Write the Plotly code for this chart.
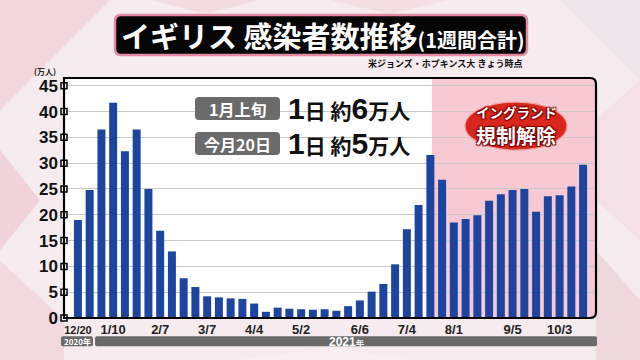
import pandas as pd
import plotly.graph_objects as go

# ---------------- data ----------------
week_start = pd.Timestamp("2020-12-20")
weekly_cases = [19.0, 24.8, 36.5, 41.7, 32.3, 36.5, 25.0, 16.9, 12.9, 7.7,
                6.0, 4.2, 4.0, 3.8, 3.7, 2.8, 1.2, 2.0, 1.8, 1.7,
                1.6, 1.7, 1.4, 2.3, 3.4, 5.1, 6.6, 10.4, 17.2, 21.9,
                31.6, 26.8, 18.5, 19.2, 19.9, 22.7, 24.0, 24.8, 25.0, 20.6,
                23.6, 23.8, 25.5, 29.7]
weeks = list(pd.date_range(week_start, periods=len(weekly_cases), freq="7D"))
tick_dates = ["2020-12-20", "2021-01-10", "2021-02-07", "2021-03-07", "2021-04-04",
              "2021-05-02", "2021-06-06", "2021-07-04", "2021-08-01", "2021-09-05",
              "2021-10-03"]
tick_labels = ["<span style='font-size:11px'>12/20</span>", "1/10", "2/7", "3/7", "4/4",
               "5/2", "6/6", "7/4", "8/1", "9/5", "10/3"]
y_ticks = [0, 5, 10, 15, 20, 25, 30, 35, 40, 45]
reopen_date = pd.Timestamp("2021-07-19")

title_main = "イギリス 感染者数推移"
title_sub = "(1週間合計)"
source_text = "米ジョンズ・ホプキンス大 きょう時点"
unit_text = "(万人)"
row_labels = ["1月上旬", "今月20日"]
row_values = [("1", "日 約", "6", "万人"), ("1", "日 約", "5", "万人")]
callout = ["イングランド", "規制解除"]

# ---------------- geometry helpers (pixel -> paper) ----------------
W, H = 640, 360
PL, PR, PT, PB = 64, 596, 78, 317.7
PW, PH = PR - PL, PB - PT


def px(x):
    return (x - PL) / PW


def py(y):
    return (PB - y) / PH


def rrect(x0, y0, x1, y1, r):
    rx, ry = r / PW, r / PH
    a0, a1 = px(x0), px(x1)
    bt, bb = py(y0), py(y1)
    return (f"M{a0},{bb+ry} L{a0},{bt-ry} Q{a0},{bt} {a0+rx},{bt} "
            f"L{a1-rx},{bt} Q{a1},{bt} {a1},{bt-ry} "
            f"L{a1},{bb+ry} Q{a1},{bb} {a1-rx},{bb} "
            f"L{a0+rx},{bb} Q{a0},{bb} {a0},{bb+ry} Z")


def poly(pts):
    return "M" + " L".join(f"{px(x)},{py(y)}" for x, y in pts) + " Z"


day = pd.Timedelta(days=1)
x_min = week_start - 8.3 * day
x_max = week_start + 308.7 * day

fig = go.Figure()

fig.add_trace(go.Bar(
    x=weeks, y=weekly_cases,
    marker=dict(color="#1d45a0", line=dict(width=0)),
    width=0.68 * 7 * 86400000,
    hoverinfo="skip",
))

# white square tick markers on the y axis
fig.add_trace(go.Scatter(
    x=[x_min] * len(y_ticks), y=y_ticks, mode="markers",
    marker=dict(symbol="square", size=6, color="white",
                line=dict(color="black", width=1.5)),
    cliponaxis=False, hoverinfo="skip",
))

shapes = []
# background decoration (margins only), pixel polygons
bg_polys = [
    ([(0, 0), (110, 0), (0, 110)], "#f1d6de"),
    ([(0, 150), (40, 200), (0, 250)], "#efd2da"),
    ([(0, 260), (64, 320), (64, 360), (0, 360)], "#f2d8df"),
    ([(150, 0), (260, 0), (205, 14)], "#f3dde3"),
    ([(330, 0), (450, 0), (390, 14)], "#f4dfe5"),
    ([(560, 0), (640, 0), (640, 80)], "#ece6ea"),
    ([(596, 120), (640, 80), (640, 240), (596, 200)], "#f4e1e7"),
    ([(596, 250), (640, 300), (640, 360), (596, 360)], "#efd7de"),
    ([(230, 360), (330, 348), (420, 360)], "#f9eef1"),
]
for pts, col in bg_polys:
    shapes.append(dict(type="path", xref="paper", yref="paper", path=poly(pts),
                       fillcolor=col, line=dict(width=0), layer="below"))

# pink region after restrictions lifted
shapes.append(dict(type="rect", xref="x", yref="y domain",
                   x0=reopen_date, x1=x_max, y0=0, y1=1,
                   fillcolor="#f6c9d3", line=dict(width=0), layer="below"))

# plot frame with rounded right corners
frame = (f"M0,0 L0,1 L{1-6/PW},1 Q1,1 1,{1-6/PH} "
         f"L1,{6/PH} Q1,0 {1-6/PW},0 Z")
shapes.append(dict(type="path", xref="paper", yref="paper", path=frame,
                   line=dict(color="black", width=2.2), layer="above"))

# title box
shapes.append(dict(type="path", xref="paper", yref="paper",
                   path=rrect(115, 15, 527, 55, 6),
                   fillcolor="#050505", line=dict(color="#e58aa5", width=2.5)))

# gray label boxes
for (y0, y1) in [(97, 120), (132, 155)]:
    shapes.append(dict(type="path", xref="paper", yref="paper",
                       path=rrect(195, y0, 280, y1, 4),
                       fillcolor="#6b6b6b", line=dict(width=0)))

# red callout ellipse
shapes.append(dict(type="circle", xref="paper", yref="paper",
                   x0=px(465), x1=px(567), y0=py(150), y1=py(102),
                   fillcolor="#d9271e", line=dict(color="#f3a0a0", width=1.2)))

# year bars
shapes.append(dict(type="path", xref="paper", yref="paper",
                   path=rrect(61, 336, 93, 346, 2), fillcolor="#6a6a6a",
                   line=dict(width=0)))
shapes.append(dict(type="path", xref="paper", yref="paper",
                   path=rrect(95, 336, 597, 346, 2), fillcolor="#6a6a6a",
                   line=dict(width=0)))

annotations = []
jp = "Noto Sans CJK JP"
annotations.append(dict(
    xref="paper", yref="paper", x=px(323), y=py(35), xanchor="center", yanchor="middle",
    text=f"<b>{title_main}</b><b><span style='font-size:20px'>{title_sub}</span></b>",
    showarrow=False, font=dict(family=jp, size=29, color="white")))
annotations.append(dict(
    xref="paper", yref="paper", x=px(524), y=py(64), xanchor="right", yanchor="middle",
    text=f"<b>{source_text}</b>", showarrow=False,
    font=dict(family=jp, size=9, color="#111")))
annotations.append(dict(
    xref="paper", yref="paper", x=px(58), y=py(71.5), xanchor="right", yanchor="middle",
    text=f"<b>{unit_text}</b>", showarrow=False,
    font=dict(family=jp, size=8, color="#222")))

for lab, vals, yc in zip(row_labels, row_values, [108.5, 143.5]):
    annotations.append(dict(
        xref="paper", yref="paper", x=px(237.5), y=py(yc), xanchor="center",
        yanchor="middle", text=f"<b>{lab}</b>", showarrow=False,
        font=dict(family=jp, size=16, color="white")))
    d1, k1, d2, k2 = vals
    txt = (f"<b><span style='font-size:30px;font-family:Liberation Sans'>{d1}</span>"
           f"{k1}<span style='font-size:30px;font-family:Liberation Sans'>{d2}</span>{k2}</b>")
    annotations.append(dict(
        xref="paper", yref="paper", x=px(286), y=py(yc), xanchor="left",
        yanchor="middle", text=txt, showarrow=False,
        font=dict(family=jp, size=21, color="#111")))

shadow = "1px 1px 1px #7a0000, -1px -1px 1px #7a0000, 1px -1px 1px #7a0000, -1px 1px 1px #7a0000"
annotations.append(dict(
    xref="paper", yref="paper", x=px(516), y=py(111.5), xanchor="center", yanchor="middle",
    text=f"<b>{callout[0]}</b>", showarrow=False, borderpad=0,
    font=dict(family=jp, size=13.5, color="white", shadow=shadow)))
annotations.append(dict(
    xref="paper", yref="paper", x=px(516), y=py(135.5), xanchor="center", yanchor="middle",
    text=f"<b>{callout[1]}</b>", showarrow=False, borderpad=0,
    font=dict(family=jp, size=20, color="white", shadow=shadow)))

annotations.append(dict(
    xref="paper", yref="paper", x=px(77), y=py(341.2), xanchor="center", yanchor="middle",
    text="<b>2020年</b>", showarrow=False,
    font=dict(family=jp, size=8, color="white")))
annotations.append(dict(
    xref="paper", yref="paper", x=px(346), y=py(341.2), xanchor="center", yanchor="middle",
    text="<b>2021<span style='font-size:8px'>年</span></b>", showarrow=False,
    font=dict(family="Liberation Sans", size=12, color="white")))

fig.update_layout(
    width=W, height=H,
    margin=dict(l=PL, r=W - PR, t=PT, b=H - PB),
    paper_bgcolor="#f6ecef",
    plot_bgcolor="white",
    showlegend=False,
    shapes=shapes,
    annotations=annotations,
    xaxis=dict(
        type="date", range=[x_min, x_max],
        tickvals=tick_dates, ticktext=[f"<b>{t}</b>" for t in tick_labels],
        tickfont=dict(family="Liberation Sans", size=13, color="#222"),
        showgrid=False, zeroline=False, showline=False, ticks="",
        ticklabelstandoff=2,
    ),
    yaxis=dict(
        range=[0, 46.5], tickvals=y_ticks,
        ticktext=[f"<b>{v}</b>" for v in y_ticks],
        tickfont=dict(family="Liberation Sans", size=17, color="#111"),
        showgrid=True, gridcolor="#c8c8c8", gridwidth=1,
        zeroline=False, showline=False, ticks="",
        ticklabelstandoff=5,
    ),
)

fig.write_html("out.html",
               config={"displayModeBar": False},
               post_script="document.body.style.margin='0';document.body.style.overflow='hidden';")
